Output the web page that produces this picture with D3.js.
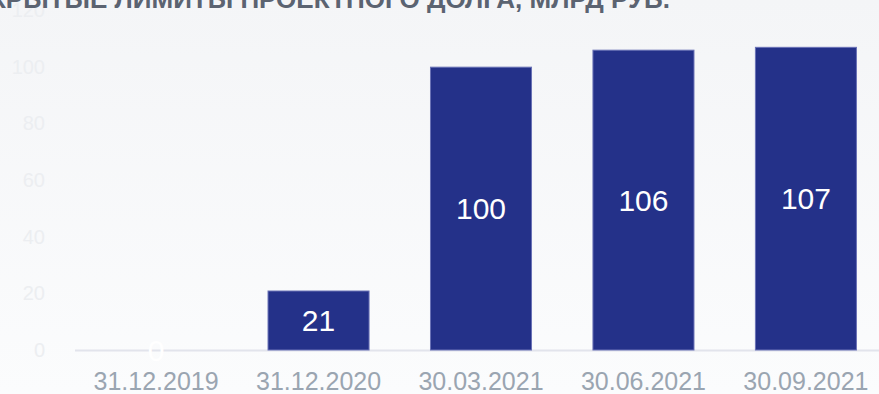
<!DOCTYPE html>
<html><head><meta charset="utf-8">
<script src="https://cdn.jsdelivr.net/npm/d3@7"></script>
<style>html,body{margin:0;padding:0;background:#f7f8fa;}svg{display:block;}</style>
</head><body>
<svg id="c" width="879" height="394"></svg>
<script>
const categories = ["31.12.2019","31.12.2020","30.03.2021","30.06.2021","30.09.2021"];
const values = [0, 21, 100, 106, 107];
const yTicks = [0, 20, 40, 60, 80, 100, 120];
const title = "ОТКРЫТЫЕ ЛИМИТЫ ПРОЕКТНОГО ДОЛГА, МЛРД РУБ.";

const svg = d3.select("#c");
const W = 879, H = 394;
const defs = svg.append("defs");
const g = defs.append("linearGradient").attr("id","bg").attr("x1",0).attr("y1",0).attr("x2",0).attr("y2",1);
g.append("stop").attr("offset","0%").attr("stop-color","#f4f5f7");
g.append("stop").attr("offset","100%").attr("stop-color","#fbfcfd");
svg.append("rect").attr("width",W).attr("height",H).attr("fill","url(#bg)");

const x = d3.scaleBand().domain(categories).range([75, 887]).paddingInner(0.372).paddingOuter(0.185);
const y = d3.scaleLinear().domain([0, 120]).range([350, 10]);

// y axis labels
const yAxis = d3.axisLeft(y).tickValues(yTicks).tickSize(0).tickPadding(0);
const ya = svg.append("g").attr("transform","translate(45,0)").call(yAxis);
ya.select(".domain").remove();
ya.selectAll("text").attr("fill","#eceef1").attr("font-family","Liberation Sans, Arial, sans-serif").attr("font-size","20px");

// baseline
svg.append("line").attr("x1",75).attr("x2",W).attr("y1",y(0)+0.5).attr("y2",y(0)+0.5)
  .attr("stroke","#e2e4ec").attr("stroke-width",2);

// bars
svg.selectAll("rect.bar").data(values).enter().append("rect").attr("class","bar")
  .attr("x",(d,i)=>x(categories[i])+0.5)
  .attr("width",x.bandwidth()-1)
  .attr("y",d=>y(d)+0.5)
  .attr("height",d=>Math.max(0,y(0)-y(d)-0.5))
  .attr("fill","#243189").attr("stroke","#6a72b6").attr("stroke-width",1);

// bar labels
svg.selectAll("text.val").data(values).enter().append("text").attr("class","val")
  .attr("x",(d,i)=>x(categories[i])+x.bandwidth()/2)
  .attr("y",d=>(y(d)+y(0))/2)
  .attr("dy","0.36em")
  .attr("text-anchor","middle")
  .attr("fill","#ffffff")
  .attr("font-family","Liberation Sans, Arial, sans-serif").attr("font-size","30px")
  .text(d=>d);

// x axis labels
const xAxis = d3.axisBottom(x).tickSize(0).tickPadding(0);
const xa = svg.append("g").attr("transform","translate(0,0)").call(xAxis);
xa.select(".domain").remove();
xa.selectAll("text").attr("y",390).attr("dy",null)
  .attr("fill","#9aa5b1").attr("font-family","Liberation Sans, Arial, sans-serif").attr("font-size","25px");

// title (clipped at top)
svg.append("text").attr("x",670).attr("y",8).attr("text-anchor","end")
  .attr("fill","#5b6371").attr("font-weight","bold")
  .attr("font-family","Liberation Sans, Arial, sans-serif").attr("font-size","26px")
  .text(title);
</script>
</body></html>
